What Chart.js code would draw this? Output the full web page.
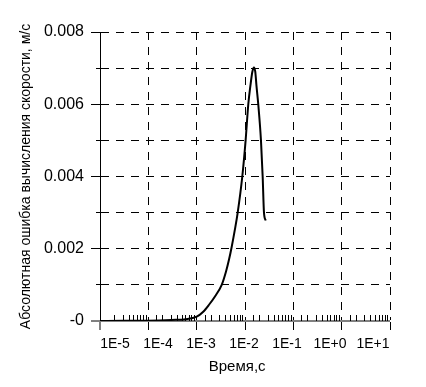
<!DOCTYPE html>
<html><head><meta charset="utf-8">
<script src="https://cdn.jsdelivr.net/npm/chart.js@4"></script>
<style>html,body{margin:0;padding:0;background:#fff}#wrap{width:426px;height:387px}</style>
</head><body><div id="wrap"><canvas id="c" width="426" height="387"></canvas></div>
<script>
// ---- data ----
const timeSeconds = [1e-5, 3e-5, 1e-4, 3e-4, 6e-4, 1e-3, 1.35e-3, 1.8e-3, 2.39e-3, 3.3e-3, 4.05e-3, 4.67e-3, 5.3e-3, 6.12e-3, 7.06e-3, 8.79e-3, 1.03e-2, 1.17e-2, 1.29e-2, 1.42e-2, 1.53e-2, 1.63e-2, 1.73e-2, 1.88e-2, 2.14e-2, 2.32e-2, 2.47e-2, 2.68e-2];
const absError = [0.000002, 0.000004, 0.00001, 0.00003, 0.00005, 0.00012, 0.00025, 0.00045, 0.00068, 0.001, 0.00137, 0.0017, 0.00205, 0.0025, 0.003, 0.004, 0.005, 0.006, 0.0065, 0.0069, 0.00702, 0.0069, 0.0065, 0.006, 0.005, 0.004, 0.003, 0.00278];
const xTickLabels = ['1E-5', '1E-4', '1E-3', '1E-2', '1E-1', '1E+0', '1E+1'];
const yTickValues = [0, 0.001, 0.002, 0.003, 0.004, 0.005, 0.006, 0.007, 0.008];
const yTickLabels = ['-0', '', '0.002', '', '0.004', '', '0.006', '', '0.008'];
const xTitle = 'Время,с';
const yTitle = 'Абсолютная ошибка вычисления скорости, м/с';

const FONT = "'Liberation Sans', Arial, sans-serif";
const DASH = [8, 7];
const isDecade = v => Math.abs(Math.log10(v) - Math.round(Math.log10(v))) < 1e-6;
const alignPx = p => Math.round(p - 0.5) + 0.5;

const minorTicks = {
  id: 'minorTicks',
  beforeDatasetsDraw(chart) {
    const {ctx, chartArea: a, scales} = chart;
    const x = scales.x, y = scales.y;
    ctx.save();
    ctx.strokeStyle = '#000';
    ctx.lineWidth = 1;
    ctx.beginPath();
    x.ticks.forEach(t => {
      if (!isDecade(t.value)) {
        const px = alignPx(x.getPixelForValue(t.value));
        ctx.moveTo(px, a.bottom - 6);
        ctx.lineTo(px, a.bottom);
      }
    });
    y.ticks.forEach((t, i) => {
      if (i % 2 === 1) {
        const py = alignPx(y.getPixelForValue(t.value));
        ctx.moveTo(a.left - 4, py);
        ctx.lineTo(a.left, py);
      }
    });
    ctx.stroke();
    ctx.restore();
  }
};

new Chart(document.getElementById('c'), {
  type: 'line',
  data: {
    datasets: [{
      data: timeSeconds.map((t, i) => ({x: t, y: absError[i]})),
      xAxisID: 'x', yAxisID: 'y',
      borderColor: '#000', borderWidth: 2, pointRadius: 0, fill: false,
      cubicInterpolationMode: 'monotone'
    }]
  },
  options: {
    animation: false, responsive: false, devicePixelRatio: 1,
    layout: {padding: {top: 32, right: 36, bottom: 11, left: 0}},
    plugins: {legend: {display: false}, tooltip: {enabled: false}},
    scales: {
      x: {
        type: 'logarithmic', position: 'bottom', min: 1e-5, max: 10, weight: 0,
        ticks: {display: false},
        grid: {
          color: '#000',
          lineWidth: c => (c.tick && c.index > 0 && isDecade(c.tick.value)) ? 1 : 0,
          tickWidth: c => (c.tick && isDecade(c.tick.value)) ? 1 : 0,
          tickColor: '#000', tickLength: 9, tickBorderDash: [], drawTicks: true
        },
        border: {display: true, color: '#808080', width: 2, dash: DASH},
        afterFit: s => { s.height = 9; }
      },
      x2: {
        type: 'linear', position: 'bottom', min: -0.349, max: 6.395, weight: 1,
        afterBuildTicks: s => { s.ticks = xTickLabels.map((_, i) => ({value: i})); },
        ticks: {callback: v => xTickLabels[Math.round(v)], font: {size: 14, family: FONT}, color: '#000', padding: 6, autoSkip: false, maxRotation: 0},
        grid: {display: false, drawTicks: false},
        border: {display: false},
        afterFit: s => { s.height = 24; }
      },
      x3: {
        type: 'linear', position: 'bottom', min: 0, max: 1, weight: 2,
        afterBuildTicks: s => { s.ticks = [{value: 0.473}]; },
        ticks: {callback: () => xTitle, font: {size: 15, family: FONT}, color: '#000', padding: 4, autoSkip: false, maxRotation: 0},
        grid: {display: false, drawTicks: false},
        border: {display: false},
        afterFit: s => { s.height = 22; }
      },
      y: {
        type: 'linear', position: 'left', min: 0, max: 0.008,
        afterBuildTicks: s => { s.ticks = yTickValues.map(v => ({value: v})); },
        ticks: {callback: v => yTickLabels[Math.round(v * 1000)], font: {size: 16, family: FONT}, color: '#000', padding: 7, autoSkip: false},
        grid: {
          color: '#000',
          lineWidth: c => (c.tick && c.tick.value > 0) ? 1 : 0,
          tickWidth: c => (c.tick && c.index % 2 === 0) ? 1 : 0,
          tickColor: '#000', tickLength: 9, tickBorderDash: []
        },
        border: {display: true, color: '#000', width: 1, dash: DASH},
        title: {display: true, text: yTitle, font: {size: 14, family: FONT}, color: '#000', padding: {top: 17.6, bottom: 0}},
        afterFit: s => { s.width = 100; }
      }
    }
  },
  plugins: [minorTicks]
});
</script>
</body></html>
